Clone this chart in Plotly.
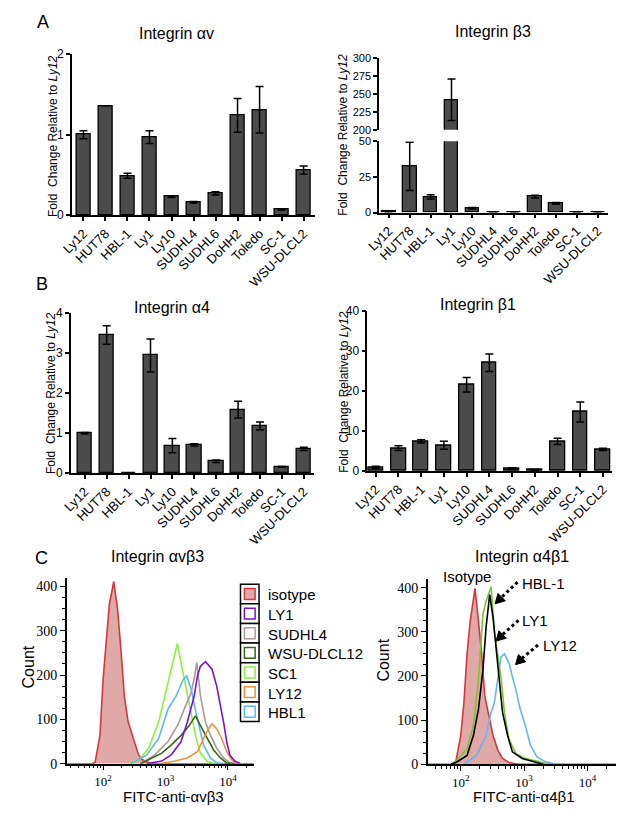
import plotly.graph_objects as go

# The page body has an 8px margin, so the figure is sized to fit the window
# exactly and every position below is given in window pixels.
OFF = 8
W, H = 624 - 2 * OFF, 819 - 2 * OFF
def px(x): return (x - OFF) / W
def py(y): return 1 - (y - OFF) / H
def clamp(v): return min(1.0, max(0.0, v))

# ---------------- data ----------------
cells = ["Ly12", "HUT78", "HBL-1", "Ly1", "Ly10", "SUDHL4", "SUDHL6", "DoHH2", "Toledo", "SC-1", "WSU-DLCL2"]

av_vals = [1.00, 1.36, 0.49, 0.97, 0.23, 0.16, 0.27, 1.24, 1.31, 0.07, 0.56]
av_err  = [0.05, 0.00, 0.03, 0.08, 0.01, 0.01, 0.02, 0.21, 0.29, 0.01, 0.05]

b3_vals = [0.6, 32.4, 11.0, 242, 3.0, 0.0, 0.3, 11.2, 6.5, 0.3, 0.0]
b3_err  = [0.3, 17.0, 1.5, 29, 0.5, 0.0, 0.1, 1.0, 0.5, 0.1, 0.0]

a4_vals = [1.00, 3.45, 0.00, 2.94, 0.69, 0.71, 0.30, 1.59, 1.18, 0.16, 0.61]
a4_err  = [0.02, 0.23, 0.00, 0.41, 0.18, 0.03, 0.03, 0.21, 0.10, 0.01, 0.04]

b1_vals = [0.9, 5.7, 7.4, 6.4, 21.5, 27.0, 0.6, 0.25, 7.4, 14.7, 5.4]
b1_err  = [0.3, 0.6, 0.4, 1.0, 1.8, 2.2, 0.2, 0.1, 0.8, 2.5, 0.3]

# flow cytometry histograms (log10 fluorescence, count)
l_iso_log = [1.42, 1.80, 1.87, 1.95, 2.00, 2.05, 2.10, 2.15, 2.17, 2.20, 2.23, 2.29, 2.34, 2.40, 2.45, 2.50, 2.57, 2.62, 2.68, 2.80, 4.42]
l_iso_cnt = [0, 0, 2, 64, 190, 285, 359, 395, 411, 380, 352, 249, 153, 95, 70, 50, 20, 10, 5, 0, 0]
l_sc1_log = [2.40, 2.57, 2.73, 2.89, 2.99, 3.09, 3.14, 3.19, 3.25, 3.33, 3.41, 3.48, 3.56, 3.67, 3.80]
l_sc1_cnt = [0, 8, 35, 94, 153, 212, 235, 271, 226, 167, 116, 64, 24, 5, 0]
l_hbl_log = [2.45, 2.70, 2.89, 3.04, 3.17, 3.28, 3.34, 3.41, 3.51, 3.61, 3.72, 3.82, 3.95]
l_hbl_cnt = [0, 20, 57, 123, 153, 189, 198, 168, 101, 42, 13, 2, 0]
l_sud_log = [2.60, 2.83, 3.04, 3.20, 3.30, 3.41, 3.47, 3.50, 3.56, 3.64, 3.72, 3.82, 3.93, 4.03, 4.15]
l_sud_cnt = [0, 20, 50, 88, 123, 160, 200, 228, 153, 94, 64, 35, 13, 2, 0]
l_wsu_log = [2.60, 2.94, 3.09, 3.25, 3.38, 3.48, 3.56, 3.67, 3.77, 3.88, 3.98, 4.10]
l_wsu_cnt = [0, 24, 42, 64, 86, 108, 86, 57, 31, 13, 2, 0]
l_ly12_log = [2.90, 3.15, 3.35, 3.51, 3.61, 3.69, 3.745, 3.82, 3.90, 3.98, 4.06, 4.14, 4.25]
l_ly12_cnt = [0, 6, 13, 27, 57, 79, 90, 79, 57, 27, 9, 0, 0]
l_ly1_log = [2.70, 2.94, 3.09, 3.25, 3.35, 3.46, 3.51, 3.56, 3.64, 3.69, 3.745, 3.82, 3.875, 3.93, 3.98, 4.03, 4.11, 4.20]
l_ly1_cnt = [0, 6, 20, 50, 94, 153, 197, 220, 230, 223, 213, 175, 138, 94, 50, 20, 6, 0]

r_iso_log = [1.48, 1.85, 1.92, 2.00, 2.05, 2.10, 2.15, 2.20, 2.226, 2.28, 2.33, 2.38, 2.43, 2.51, 2.585, 2.66, 2.76, 2.90, 4.45]
r_iso_cnt = [0, 0, 4, 65, 139, 250, 324, 376, 398, 324, 250, 154, 117, 65, 32, 13, 4, 0, 0]
r_blue_log = [2.05, 2.25, 2.40, 2.48, 2.53, 2.585, 2.635, 2.69, 2.765, 2.815, 2.87, 2.94, 3.02, 3.10, 3.20, 3.33, 3.50]
r_blue_cnt = [0, 20, 65, 117, 139, 191, 243, 250, 228, 198, 169, 124, 87, 43, 17, 6, 0]
r_green_log = [1.85, 1.94, 2.10, 2.20, 2.28, 2.35, 2.40, 2.48, 2.53, 2.585, 2.64, 2.69, 2.76, 2.87, 3.02, 3.23, 3.40]
r_green_cnt = [0, 9, 35, 87, 191, 339, 369, 402, 302, 250, 191, 117, 57, 24, 13, 6, 0]
r_black_log = [1.85, 1.94, 2.10, 2.20, 2.28, 2.35, 2.40, 2.457, 2.51, 2.56, 2.61, 2.66, 2.74, 2.815, 2.97, 3.17, 3.30]
r_black_cnt = [0, 5, 20, 65, 124, 213, 310, 384, 332, 265, 191, 117, 65, 28, 13, 6, 0]

legend_names = ["isotype", "LY1", "SUDHL4", "WSU-DLCL12", "SC1", "LY12", "HBL1"]
legend_colors = ["#d2383c", "#7a12d0", "#ad9896", "#3b6618", "#8ef03c", "#e8923c", "#5cb8ee"]

# ---------------- figure ----------------
SANS = "Liberation Sans, Arial, sans-serif"
SERIF = "Liberation Serif, Times New Roman, serif"
fig = go.Figure()

def err(a):
    return dict(type="data", array=a, color="black", thickness=1.5, width=4, visible=True)

bar_kw = dict(marker=dict(color="#4b4b4b", line=dict(color="black", width=1.3)), width=0.65, showlegend=False)

fig.add_trace(go.Bar(x=cells, y=av_vals, error_y=err(av_err), xaxis="x", yaxis="y", **bar_kw))
fig.add_trace(go.Bar(x=cells, y=b3_vals, error_y=err(b3_err), xaxis="x2", yaxis="y2", **bar_kw))
fig.add_trace(go.Bar(x=cells, y=b3_vals, error_y=err(b3_err), xaxis="x3", yaxis="y3", **bar_kw))
fig.add_trace(go.Bar(x=cells, y=a4_vals, error_y=err(a4_err), xaxis="x4", yaxis="y4", **bar_kw))
fig.add_trace(go.Bar(x=cells, y=b1_vals, error_y=err(b1_err), xaxis="x5", yaxis="y5", **bar_kw))

def hist(logs, cnts, color, xa, ya, fill=None):
    kw = dict(x=[10 ** v for v in logs], y=cnts, mode="lines", line=dict(color=color, width=1.6),
              xaxis=xa, yaxis=ya, showlegend=False, hoverinfo="skip")
    if fill:
        kw.update(fill="tozeroy", fillcolor=fill)
    fig.add_trace(go.Scatter(**kw))

hist(l_iso_log, l_iso_cnt, legend_colors[0], "x6", "y6", fill="rgba(205,110,110,0.6)")
hist(l_sc1_log, l_sc1_cnt, legend_colors[4], "x6", "y6")
hist(l_hbl_log, l_hbl_cnt, legend_colors[6], "x6", "y6")
hist(l_sud_log, l_sud_cnt, legend_colors[2], "x6", "y6")
hist(l_wsu_log, l_wsu_cnt, legend_colors[3], "x6", "y6")
hist(l_ly12_log, l_ly12_cnt, legend_colors[5], "x6", "y6")
hist(l_ly1_log, l_ly1_cnt, legend_colors[1], "x6", "y6")

hist(r_iso_log, r_iso_cnt, "#d2383c", "x7", "y7", fill="rgba(205,110,110,0.6)")
hist(r_blue_log, r_blue_cnt, "#64b6f0", "x7", "y7")
hist(r_green_log, r_green_cnt, "#7cc42c", "x7", "y7")
hist(r_black_log, r_black_cnt, "#000000", "x7", "y7")

# ---------------- axes ----------------
def xdom(x0, x1): return [clamp(px(x0)), clamp(px(x1))]
def ydom(y0, y1): return [clamp(py(y1)), clamp(py(y0))]

def xcat(x0, x1, rng, anchor, labels=True):
    d = dict(domain=xdom(x0, x1), range=rng, anchor=anchor, type="category",
             showline=True, linecolor="black", linewidth=1.5, ticks="outside", ticklen=4,
             tickwidth=1.5, tickcolor="black", tickangle=-45,
             tickfont=dict(family=SANS, size=13, color="black"),
             showgrid=False, zeroline=False, fixedrange=True)
    if not labels:
        d.update(showline=False, ticks="", showticklabels=False)
    return d

def ylin(y0, y1, rng, tv, anchor, size=12):
    return dict(domain=ydom(y0, y1), range=rng, anchor=anchor, tickvals=tv,
                showline=True, linecolor="black", linewidth=1.5, ticks="outside", ticklen=4,
                tickwidth=1.5, tickcolor="black",
                tickfont=dict(family=SANS, size=size, color="black"),
                showgrid=False, zeroline=False, fixedrange=True)

def minor_log(lo, hi):
    vals = []
    for e in range(lo, hi + 1):
        for m in range(2, 10):
            vals.append(m * 10 ** e)
    return vals

def xlog(x0, x1, rng, anchor):
    return dict(domain=xdom(x0, x1), type="log", range=rng, anchor=anchor,
                showline=True, linecolor="black", linewidth=1.5, ticks="outside", ticklen=5,
                tickwidth=1.2, tickcolor="black",
                tickvals=[100, 1000, 10000], ticktext=["10<sup>2</sup>", "10<sup>3</sup>", "10<sup>4</sup>"],
                tickfont=dict(family=SERIF, size=13, color="black"),
                minor=dict(ticks="outside", ticklen=3, tickwidth=1, tickcolor="black",
                           tickmode="array", tickvals=minor_log(1, 4)),
                showgrid=False, zeroline=False, fixedrange=True)

def yhist(y0, y1, top, anchor):
    return dict(domain=ydom(y0, y1), range=[0, top], anchor=anchor,
                tickvals=[0, 100, 200, 300, 400],
                showline=True, linecolor="black", linewidth=1.5, ticks="outside", ticklen=5,
                tickwidth=1.2, tickcolor="black",
                tickfont=dict(family=SERIF, size=14, color="black"),
                minor=dict(ticks="outside", ticklen=3, tickwidth=1, tickcolor="black", dtick=25, tick0=0),
                showgrid=False, zeroline=False, fixedrange=True)

layout = dict(
    width=W, height=H, autosize=False, margin=dict(l=0, r=0, t=0, b=0),
    paper_bgcolor="white", plot_bgcolor="rgba(0,0,0,0)", showlegend=False,
    font=dict(family=SANS, color="black"), bargap=0,
    xaxis=xcat(58, 307, [-0.53, 10.5], "y"),
    yaxis=ylin(48, 212, [0, 2], [0, 1, 2], "x"),
    xaxis2=xcat(373, 608, [-0.47, 10.5], "y2"),
    yaxis2=ylin(136.7, 209.3, [0, 50], [0, 25, 50], "x2", size=11),
    xaxis3=xcat(373, 608, [-0.47, 10.5], "y3", labels=False),
    yaxis3=ylin(52, 125, [200, 300], [200, 225, 250, 275, 300], "x3", size=11),
    xaxis4=xcat(57, 306, [-0.64, 10.45], "y4"),
    yaxis4=ylin(311.7, 475, [0, 4], [0, 1, 2, 3, 4], "x4"),
    xaxis5=xcat(361, 612, [-0.37, 10.4], "y5"),
    yaxis5=ylin(309.3, 472.7, [0, 40], [0, 10, 20, 30, 40], "x5"),
    xaxis6=xlog(53, 245, [1.42, 4.42], "y6"),
    yaxis6=yhist(582, 771, 418, "x6"),
    xaxis7=xlog(423, 616, [1.48, 4.45], "y7"),
    yaxis7=yhist(582.5, 771.5, 420, "x7"),
)
layout["xaxis3"]["matches"] = "x2"
fig.update_layout(**layout)

# ---------------- annotations ----------------
def txt(x, y, s, size=15, family=SANS, angle=0, xanchor="center", yanchor="middle"):
    fig.add_annotation(x=px(x), y=py(y), xref="paper", yref="paper", text=s, showarrow=False,
                       font=dict(family=family, size=size, color="black"), textangle=angle,
                       xanchor=xanchor, yanchor=yanchor)

txt(28, 15, "A", 18)
txt(27, 282, "B", 18)
txt(27, 561, "C", 18)

txt(165, 27, "Integrin αv", 16)
txt(490, 25, "Integrin β3", 16)
txt(161, 306, "Integrin α4", 16)
txt(475, 303, "Integrin β1", 16)
txt(146, 560, "Integrin αvβ3", 16)
txt(520, 560, "Integrin α4β1", 16)

ylab = "Fold  Change Relative to <i>Ly12</i>"
txt(38, 131, ylab, 12, angle=-90)
txt(336, 130, ylab, 12, angle=-90)
txt(37, 393, ylab, 12, angle=-90)
txt(337, 392, ylab, 12, angle=-90)

txt(14, 672, "Count", 16, angle=-90)
txt(378, 665, "Count", 16, angle=-90)
txt(162, 804, "FITC-anti-αvβ3", 15)
txt(521, 804, "FITC-anti-α4β1", 15)

# legend for left histogram
row_h = 20
top = 588
for i, (name, col) in enumerate(zip(legend_names, legend_colors)):
    y0 = top + i * row_h
    fig.add_shape(type="rect", xref="paper", yref="paper",
                  x0=px(231), x1=px(250), y0=py(y0), y1=py(y0 + row_h),
                  line=dict(color="black", width=1.5), fillcolor="white")
    fig.add_shape(type="rect", xref="paper", yref="paper",
                  x0=px(235), x1=px(246), y0=py(y0 + 4.5), y1=py(y0 + 15.5),
                  line=dict(color=col, width=1.5),
                  fillcolor="rgba(205,110,110,0.6)" if i == 0 else "white")
    txt(257, y0 + row_h / 2 + 1, name, 15, xanchor="left")

# labels and dotted arrows for right histogram
txt(463, 580, "Isotype", 15)
txt(518, 587, "HBL-1", 15, xanchor="left")
txt(518, 625, "LY1", 15, xanchor="left")
txt(539, 651, "LY12", 15, xanchor="left")

arrows = [((515, 586), (492, 608)), ((516, 625), (493, 646)), ((536, 650), (513, 670))]
for (tx, ty), (hx, hy) in arrows:
    fig.add_shape(type="line", xref="paper", yref="paper",
                  x0=px(tx), y0=py(ty), x1=px(hx + 6), y1=py(hy - 6),
                  line=dict(color="black", width=3, dash="dot"))
    pts = [(hx, hy), (hx + 10.5, hy - 3.0), (hx + 3.0, hy - 10.5)]
    path = "M {} {} L {} {} L {} {} Z".format(*[v for p in pts for v in (px(p[0]), py(p[1]))])
    fig.add_shape(type="path", xref="paper", yref="paper", path=path,
                  fillcolor="black", line=dict(color="black", width=1))

fig.write_html("out.html")
